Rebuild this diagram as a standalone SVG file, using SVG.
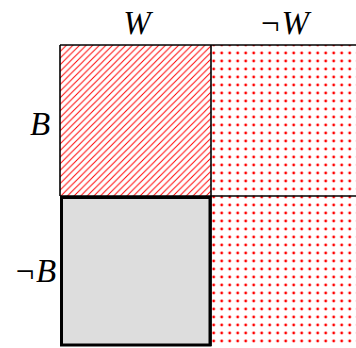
<svg xmlns="http://www.w3.org/2000/svg" width="356" height="348" viewBox="0 0 356 348">
<defs>
<pattern id="hatch" patternUnits="userSpaceOnUse" x="60" y="45" width="6.6" height="6.6">
<path d="M-1,1 L1,-1 M0,6.6 L6.6,0 M5.6,7.6 L7.6,5.6" stroke="#ff0000" stroke-width="1"/>
</pattern>
<pattern id="dots" patternUnits="userSpaceOnUse" x="209.7" y="41" width="8" height="8">
<circle cx="4" cy="4" r="1.4" fill="#ff0000"/>
</pattern>
</defs>
<style>
.lbl{font-family:"Liberation Serif","DejaVu Serif",serif;font-style:italic;font-size:33px;fill:#000}
.grid{stroke:#000;stroke-width:1.6;fill:none}
</style>
<rect width="356" height="348" fill="#fff"/>
<g id="cell-WB"><rect x="60" y="45" width="151" height="151" fill="url(#hatch)"/></g>
<g id="cell-notW"><rect x="211" y="45" width="150" height="302" fill="url(#dots)"/></g>
<g id="cell-W-notB"><rect x="61.5" y="197.5" width="148.5" height="147.5" fill="#dddddd" stroke="#000" stroke-width="3"/></g>
<g id="connectors">
<line class="grid" x1="60" y1="45" x2="356" y2="45"/>
<line class="grid" x1="60" y1="45" x2="60" y2="196"/>
<line class="grid" x1="211" y1="45" x2="211" y2="346"/>
<line class="grid" x1="60" y1="196" x2="356" y2="196"/>
</g>
<g id="labels">
<text class="lbl" x="137" y="34" text-anchor="middle">W</text>
<text class="lbl" x="284" y="34" text-anchor="middle">¬W</text>
<text class="lbl" x="40" y="135" text-anchor="middle">B</text>
<text class="lbl" x="35" y="282" text-anchor="middle">¬B</text>
</g>
</svg>
